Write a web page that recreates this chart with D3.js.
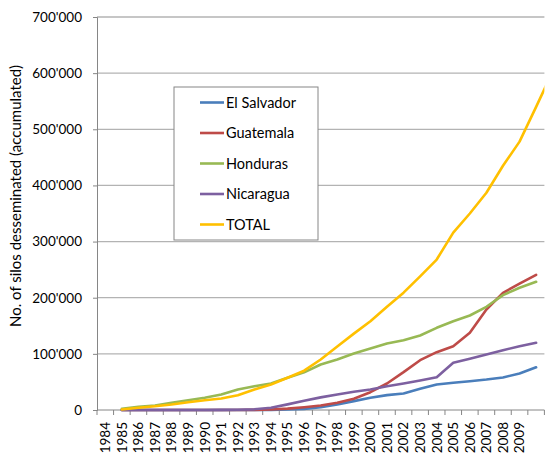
<!DOCTYPE html>
<html>
<head>
<meta charset="utf-8">
<script src="https://cdn.jsdelivr.net/npm/d3@7"></script>
<style>
  body { margin: 0; background: #fff; }
  text { font-family: Lato, "Liberation Sans", sans-serif; fill: #000; }
</style>
</head>
<body>
<svg id="chart" width="550" height="457"></svg>
<script>
// category axis (last category has no label)
var yearLabels = ["1984", "1985", "1986", "1987", "1988", "1989", "1990", "1991", "1992",
                  "1993", "1994", "1995", "1996", "1997", "1998", "1999", "2000", "2001",
                  "2002", "2003", "2004", "2005", "2006", "2007", "2008", "2009", ""];
var firstIndex = 1; // series start in 1985

// values from 1985 on
var elSalvador = [0, 0, 0, 0, 0, 0, 0, 0, 0, 300, 800, 2000, 5000, 9800, 15800, 21900, 26500,
                  29400, 37800, 45500, 48500, 51300, 54300, 58000, 65000, 76000];
var guatemala  = [0, 0, 0, 0, 0, 0, 0, 0, 200, 800, 2500, 5000, 8000, 12800, 19900, 31700, 47200,
                  67400, 88700, 103000, 113700, 137500, 179000, 208700, 225000, 240800];
var honduras   = [2100, 5700, 8000, 12800, 17500, 21700, 27600, 36500, 42400, 47200, 57400, 67000,
                  81000, 90000, 100600, 109500, 118500, 124300, 132700, 146400, 158200, 168300,
                  183800, 204500, 217700, 228400];
var nicaragua  = [0, 0, 0, 0, 0, 0, 200, 500, 1200, 4000, 10000, 16500, 22500, 27600, 32400, 36500,
                  42400, 47200, 52500, 58400, 84000, 91200, 98900, 106500, 113600, 119700];
// TOTAL runs one point past the axis and is cut at the plot edge
var total      = [1000, 3900, 6800, 9800, 13900, 17500, 20500, 26400, 36500, 45400, 57400, 70000,
                  90000, 113000, 136000, 158000, 184000, 209000, 238000, 268000, 316000, 350000,
                  387000, 435000, 478000, 540000, 603000];

var seriesNames = ["El Salvador", "Guatemala", "Honduras", "Nicaragua", "TOTAL"];
var seriesValues = [elSalvador, guatemala, honduras, nicaragua, total];
var seriesColors = ["#4a7ebb", "#be4b48", "#98b954", "#7d60a0", "#ffc000"];
var yTicks = [0, 100000, 200000, 300000, 400000, 500000, 600000, 700000];

var plot = {left: 97, right: 544.4, top: 17, bottom: 410};
var svg = d3.select("#chart");

var x = d3.scaleLinear().domain([0, yearLabels.length]).range([plot.left, plot.right]);
var y = d3.scaleLinear().domain([0, 700000]).range([plot.bottom, plot.top]);

var fmt = d3.formatLocale({decimal: ".", thousands: "'", grouping: [3], currency: ["", ""]}).format(",");

svg.append("clipPath").attr("id", "plot-clip")
  .append("rect")
  .attr("x", plot.left).attr("y", plot.top - 5)
  .attr("width", plot.right - plot.left).attr("height", plot.bottom - plot.top + 10);

// gridlines
svg.append("g")
  .selectAll("line")
  .data(yTicks.slice(1))
  .enter()
  .append("line")
  .attr("x1", plot.left).attr("x2", plot.right)
  .attr("y1", function(d){ return y(d); })
  .attr("y2", function(d){ return y(d); })
  .attr("stroke", "#b3b3b3")
  .attr("stroke-width", 1.3);

// y axis
var yAxis = svg.append("g")
  .attr("transform", "translate(" + plot.left + ",0)")
  .call(d3.axisLeft(y).tickValues(yTicks).tickFormat(fmt).tickSize(4).tickPadding(11));
yAxis.select(".domain").attr("stroke", "#868686");
yAxis.selectAll(".tick line").attr("stroke", "#868686");
yAxis.selectAll(".tick text").style("font-size", "13.5px").style("font-family", "Lato, sans-serif").attr("fill", "#000");

// x axis: ticks between categories
var xAxis = svg.append("g")
  .attr("transform", "translate(0," + plot.bottom + ")");
xAxis.append("line")
  .attr("x1", plot.left).attr("x2", plot.right)
  .attr("stroke", "#868686");
xAxis.selectAll("line.tick")
  .data(d3.range(yearLabels.length + 1))
  .enter()
  .append("line")
  .attr("class", "tick")
  .attr("x1", function(i){ return x(i); })
  .attr("x2", function(i){ return x(i); })
  .attr("y1", 0).attr("y2", 5)
  .attr("stroke", "#868686");
xAxis.selectAll("text")
  .data(yearLabels)
  .enter()
  .append("text")
  .attr("transform", function(d, i){ return "translate(" + x(i + 0.5) + ",12) rotate(-90)"; })
  .attr("text-anchor", "end")
  .attr("dy", "0.36em")
  .style("font-size", "13.5px")
  .text(function(d){ return d; });

// axis title
svg.append("text")
  .attr("transform", "translate(16,196) rotate(-90)")
  .attr("text-anchor", "middle")
  .attr("dy", "0.35em")
  .style("font-size", "15px")
  .text("No. of silos desseminated (accumulated)");

// lines
var line = d3.line()
  .x(function(d, i){ return x(i + firstIndex + 0.5); })
  .y(function(d){ return y(d); });

svg.append("g")
  .attr("clip-path", "url(#plot-clip)")
  .selectAll("path")
  .data(seriesValues)
  .enter()
  .append("path")
  .attr("d", function(d){ return line(d); })
  .attr("fill", "none")
  .attr("stroke", function(d, i){ return seriesColors[i]; })
  .attr("stroke-width", 2.6)
  .attr("stroke-linejoin", "round")
  .attr("stroke-linecap", "round");

// legend
var legend = svg.append("g").attr("transform", "translate(174,87)");
legend.append("rect")
  .attr("width", 144).attr("height", 153)
  .attr("fill", "#fff")
  .attr("stroke", "#868686");
var items = legend.selectAll("g.item")
  .data(seriesNames)
  .enter()
  .append("g")
  .attr("class", "item")
  .attr("transform", function(d, i){ return "translate(0," + (15.5 + i * 30.5) + ")"; });
items.append("line")
  .attr("x1", 26).attr("x2", 50)
  .attr("stroke", function(d, i){ return seriesColors[i]; })
  .attr("stroke-width", 2.6);
items.append("text")
  .attr("x", 52)
  .attr("dy", "0.35em")
  .style("font-size", "14.5px")
  .text(function(d){ return d; });
</script>
</body>
</html>
